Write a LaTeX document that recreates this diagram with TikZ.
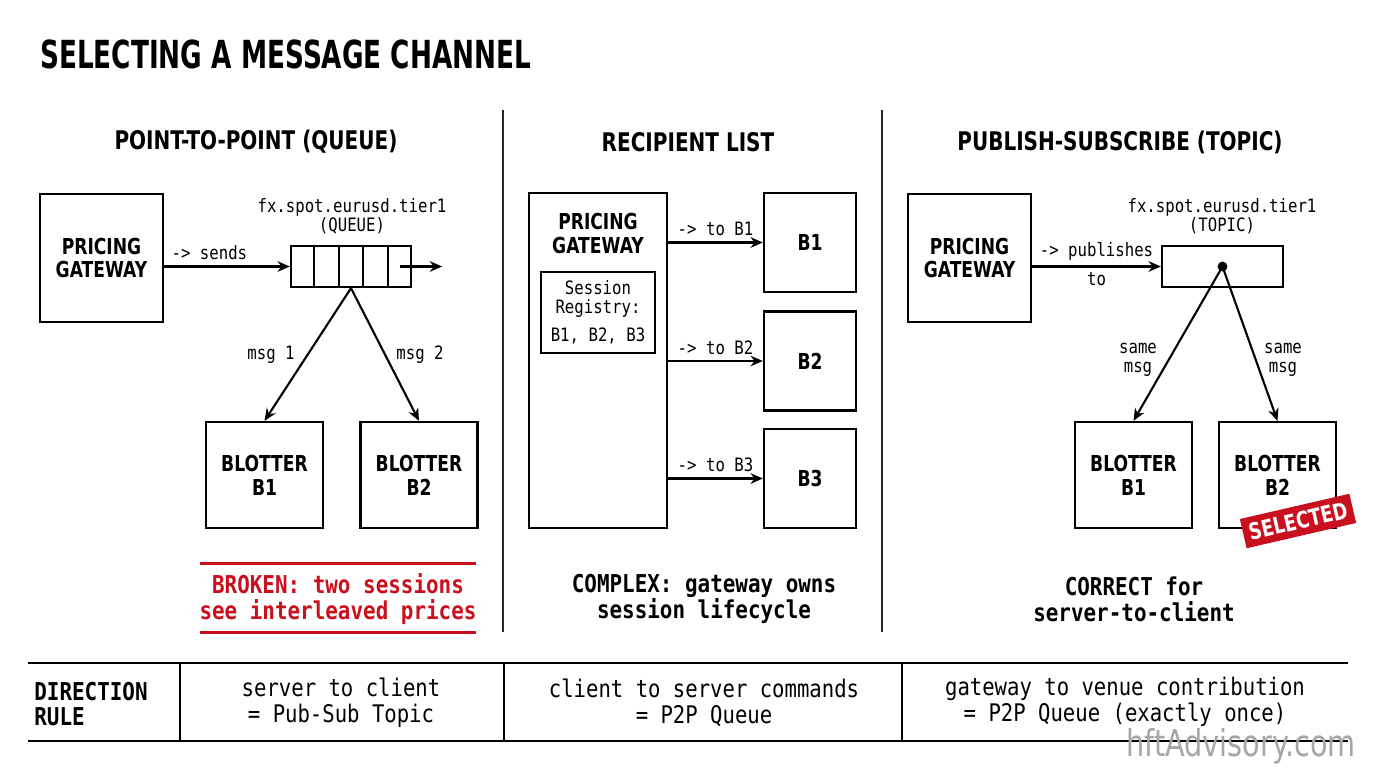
\documentclass[tikz,border=0pt]{standalone}
\usepackage{fontspec}
\usepackage{xcolor}
\usetikzlibrary{arrows.meta, positioning, calc}
\newfontfamily\hdfont{DejaVu Sans}[FakeStretch=0.78]
\newfontfamily\ttlfont{DejaVu Sans}[FakeStretch=0.68]
\newfontfamily\cdfont{DejaVu Sans Mono}[FakeStretch=0.85]
\definecolor{alertred}{RGB}{200,16,30}
\tikzset{
  unit/.style={rectangle, draw=black, line width=1.3pt, align=center, inner sep=0pt,
               font=\hdfont\bfseries\fontsize{12.5}{13.6}\selectfont},
  chan/.style={rectangle, draw=black, line width=1.3pt, minimum width=2.4cm, minimum height=0.82cm},
  registry/.style={rectangle, draw=black, line width=1.1pt, align=center, inner sep=0pt,
                   minimum width=2.28cm, minimum height=1.62cm, font=\cdfont\fontsize{10.5}{10.8}\selectfont},
  heading/.style={font=\hdfont\bfseries\fontsize{14.6}{18}\selectfont},
  tag/.style={font=\cdfont\fontsize{10.5}{10.8}\selectfont, align=center, inner sep=1pt},
  verdict/.style={font=\cdfont\bfseries\fontsize{14}{14.7}\selectfont, align=center},
  rulecell/.style={font=\cdfont\fontsize{13.8}{14.7}\selectfont, align=center},
  stamp/.style={rectangle, fill=alertred, text=white, minimum width=2.2cm, minimum height=0.6cm,
                font=\hdfont\bfseries\fontsize{13}{14}\selectfont},
  arrow/.style={-{Stealth[length=7pt,width=6pt]}, line width=1.2pt},
  divider/.style={line width=0.9pt, draw=black!85},
}
\begin{document}
\begin{tikzpicture}[x=0.02cm, y=-0.02cm]
  \useasboundingbox (0,0) rectangle (1376,768);

  % Title
  \node[anchor=west, inner sep=0pt, font=\ttlfont\bfseries\fontsize{22}{26}\selectfont] (title) at (40,54) {SELECTING A MESSAGE CHANNEL};

  % Column dividers
  \draw[divider] (503,110) -- (503,632);
  \draw[divider] (882,110) -- (882,632);

  % Headings
  \node[heading] (hqueue) at (256,142) {POINT-TO-POINT (QUEUE)};
  \node[heading] (hlist)  at (688,142) {RECIPIENT LIST};
  \node[heading] (htopic) at (1120,142) {PUBLISH-SUBSCRIBE (TOPIC)};

  % Point-to-point
  \node[unit, minimum width=2.46cm, minimum height=2.56cm] (qgw) at (101.5,258) {PRICING\\GATEWAY};
  \node[chan] (queue) at (351,266.5) {};
  \foreach \i in {1,...,4}
    \draw[line width=1.1pt] ($(queue.north west)!\i/5!(queue.north east)$) -- ($(queue.south west)!\i/5!(queue.south east)$);
  \node[tag] (qname) at (352,216.5) {fx.spot.eurusd.tier1\\(QUEUE)};
  \node[unit, minimum width=2.34cm, minimum height=2.12cm] (qb1) at (264.5,475) {BLOTTER\\B1};
  \node[unit, minimum width=2.34cm, minimum height=2.12cm] (qb2) at (419,475) {BLOTTER\\B2};
  \node[tag] (msg1) at (271,355) {msg 1};
  \node[tag] (msg2) at (420,355) {msg 2};

  \draw[arrow] (qgw.east |- queue.west) -- node[tag, above=2pt, pos=0.36]{-> sends} (queue.west);
  \draw[arrow] ([xshift=-0.24cm]queue.east) -- ++(42,0);
  \draw[arrow] (queue.south) -- (qb1.north);
  \draw[arrow] (queue.south) -- (qb2.north);

  \draw[line width=1.7pt, alertred] (200,563) -- (476,563);
  \draw[line width=1.7pt, alertred] (200,632) -- (476,632);
  \node[verdict, text=alertred] (broken) at (338,599) {BROKEN: two sessions\\see interleaved prices};

  % Recipient list
  \node[unit, minimum width=2.76cm, minimum height=6.7cm] (lgw) at (598,360.5) {};
  \node[unit, draw=none] (lgwname) at (598,233.5) {PRICING\\GATEWAY};
  \node[registry] (reg) at (598,312.5) {Session\\Registry:\\[5pt]B1, B2, B3};
  \node[unit, minimum width=1.84cm, minimum height=1.98cm] (r1) at (810,242.5) {B1};
  \node[unit, minimum width=1.84cm, minimum height=1.98cm] (r2) at (810,361) {B2};
  \node[unit, minimum width=1.84cm, minimum height=1.98cm] (r3) at (810,478.5) {B3};
  \foreach \b in {1,2,3}
    \draw[arrow] (lgw.east |- r\b.west) -- node[tag, above=2pt]{-> to B\b} (r\b.west);
  \node[verdict] (complex) at (704,599) {COMPLEX: gateway owns\\session lifecycle};

  % Publish-subscribe
  \node[unit, minimum width=2.46cm, minimum height=2.56cm] (tgw) at (969.5,258) {PRICING\\GATEWAY};
  \node[chan, minimum width=2.42cm] (topic) at (1222.5,266.5) {};
  \node[circle, fill=black, inner sep=0pt, minimum size=5.6pt] (hub) at (topic.center) {};
  \node[tag] (tname) at (1222,216.5) {fx.spot.eurusd.tier1\\(TOPIC)};
  \node[unit, minimum width=2.34cm, minimum height=2.12cm] (tb1) at (1133.5,475) {BLOTTER\\B1};
  \node[unit, minimum width=2.34cm, minimum height=2.12cm] (tb2) at (1277.5,475) {BLOTTER\\B2};
  \node[tag] (same1) at (1138,360) {same\\msg};
  \node[tag] (same2) at (1283,360) {same\\msg};

  \draw[arrow] (tgw.east |- topic.west) -- node[tag, above=2pt]{-> publishes} node[tag, below=2pt]{to} (topic.west);
  \draw[arrow] (hub.center) -- (tb1.north);
  \draw[arrow] (hub.center) -- (tb2.north);

  \node[stamp, rotate=13] (sel) at (1298,521) {SELECTED};
  \node[verdict] (correct) at (1134,599) {CORRECT for\\server-to-client};

  % Direction rule
  \draw[line width=1pt] (28,663) -- (1348,663);
  \draw[line width=1pt] (28,741) -- (1348,741);
  \foreach \x in {180,504,902}
    \draw[line width=1pt] (\x,663) -- (\x,741);
  \node[rulecell, font=\cdfont\bfseries\fontsize{14}{14.7}\selectfont, align=left, anchor=west, inner sep=0pt] (rulehead) at (34,704) {DIRECTION\\RULE};
  \node[rulecell] (rule1) at (341,703) {server to client\\= Pub-Sub Topic};
  \node[rulecell] (rule2) at (704,703) {client to server commands\\= P2P Queue};
  \node[rulecell] (rule3) at (1125,702) {gateway to venue contribution\\= P2P Queue (exactly once)};

  \node[anchor=east, text=black!35, font=\hdfont\fontsize{21}{24}\selectfont, inner sep=1pt] (mark) at (1358,746) {hftAdvisory.com};
\end{tikzpicture}
\end{document}
